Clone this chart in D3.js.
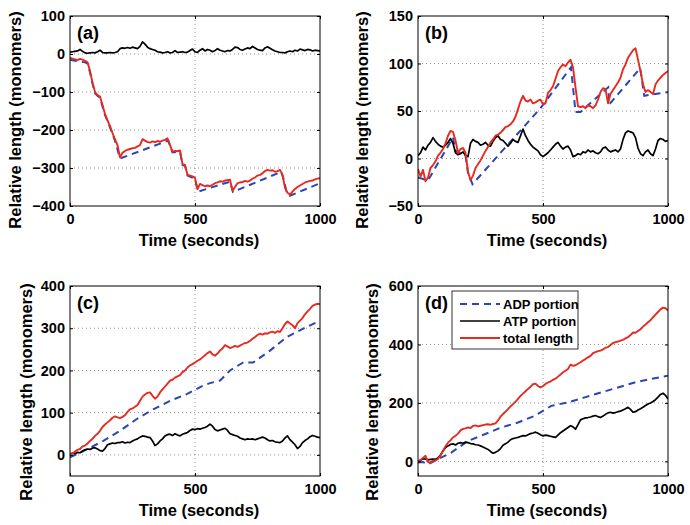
<!DOCTYPE html>
<html>
<head>
<meta charset="utf-8">
<script src="https://cdn.jsdelivr.net/npm/d3@7"></script>
<style>
  body { margin: 0; background: #fff; }
  svg text { font-family: "Liberation Sans", Arial, Helvetica, sans-serif; font-weight: bold; fill: #000; }
</style>
</head>
<body>
<div id="chart"></div>
<script>
// sample times (seconds) for the noisy traces
const time = d3.range(0, 1001, 10);
const xTicks = [0, 500, 1000];
const legendLabels = ["ADP portion", "ATP portion", "total length"];

// ---- panel (a)
const atpA = [5,6,7,8,12,7,3,2,3,4, 3,6,10,4,3,3,4,3,4,6,
  14,16,15,17,15,18,16,14,20,32, 26,18,14,12,10,6,5,3,4,6,
  3,4,9,4,5,6,4,5,9,13, 6,4,10,14,8,12,10,6,9,14,
  10,8,6,9,8,12,18,17,12,10, 13,16,14,20,16,12,10,9,16,19,
  15,11,8,6,4,4,3,6,8,6, 10,8,13,11,9,12,11,8,10,9, 8];
const totalA = [-10,-12,-14,-16,-13,-15,-18,-22,-45,-75,
  -100,-108,-112,-135,-158,-175,-190,-208,-225,-240,
  -272,-260,-255,-252,-250,-248,-247,-243,-240,-224,
  -228,-232,-233,-230,-232,-229,-231,-228,-226,-222,
  -240,-257,-255,-256,-254,-290,-292,-318,-320,-322,
  -326,-356,-342,-345,-348,-346,-348,-344,-340,-338,
  -335,-336,-333,-332,-331,-360,-350,-340,-338,-337,
  -334,-336,-333,-328,-325,-320,-318,-314,-308,-305,
  -307,-306,-310,-308,-305,-318,-352,-365,-370,-362,
  -355,-350,-346,-342,-338,-336,-334,-333,-330,-328, -327];
const adpTimeA = [0,20,60,70,80,90,100,110,120,140,160,180,200,393,400,410,440,450,460,470,500,510,513,640,652,845,855,865,880,1000];
const adpA = [-15,-18,-22,-25,-48,-78,-103,-110,-115,-160,-193,-228,-275,-228,-242,-259,-257,-292,-294,-320,-328,-358,-362,-336,-363,-310,-330,-360,-373,-340];
const yTicksA = [-400, -300, -200, -100, 0, 100];

// ---- panel (b)
const atpB = [3,6,12,9,14,17,22,18,15,13, 12,14,17,21,16,6,4,5,7,3,
  2,16,20,18,17,14,15,17,14,13, 18,22,24,20,19,16,13,16,20,18,
  17,24,31,24,19,15,12,10,8,4, 2,4,6,9,12,15,17,13,10,12,
  13,9,2,3,5,4,7,6,9,7, 8,6,5,7,11,12,9,7,8,9,
  7,10,20,27,29,28,27,22,11,5, 3,7,9,5,3,10,19,21,20,18, 19];
const totalB = [-11,-19,-12,-24,-20,-10,-7,-3,3,6,
  10,16,24,29,28,19,6,10,11,6,
  -14,-23,-18,-10,-6,-2,3,8,12,17,
  20,24,25,27,30,33,34,36,39,44,
  52,60,66,61,60,62,58,59,61,62,
  57,58,69,72,76,84,92,96,99,97,
  101,104,96,75,55,54,55,53,56,55,
  53,56,62,70,74,73,58,68,72,76,
  80,85,94,99,106,110,114,116,104,92,
  78,70,72,70,68,78,82,85,88,90, 92];
const adpTimeB = [0,40,140,150,190,200,218,490,612,630,650,761,765,889,905,1000];
const adpB = [-20,-23,22,8,3,-15,-27,53,96,49,49,75,57,95,66,70];
const yTicksB = [-50, 0, 50, 100, 150];

// ---- panel (c)
const atpC = [2,4,3,6,5,9,12,14,13,16, 17,14,10,9,15,24,26,28,27,29,
  29,31,28,30,29,33,36,38,42,45, 44,42,41,33,22,26,33,38,45,48,
  49,46,50,47,45,49,51,53,58,61, 60,62,61,63,65,68,73,68,60,57,
  59,61,63,58,50,48,46,44,40,38, 36,38,37,38,36,38,40,42,40,36,
  33,34,31,30,29,33,40,45,36,30, 24,15,20,29,34,38,43,46,44,42, 41];
const totalC = [4,3,8,12,14,20,22,27,33,38, 45,50,57,66,72,77,82,88,91,89,
  87,90,94,102,108,110,114,118,128,138, 143,147,148,140,133,138,148,155,162,169,
  176,178,183,186,189,196,200,207,212,215, 219,223,226,231,236,241,245,238,235,240,
  247,252,260,257,253,255,258,256,259,262, 265,266,270,275,279,284,287,285,288,287,
  290,292,289,293,291,300,310,316,311,307, 300,312,318,324,333,340,346,353,356,358, 357];
const adpTimeC = [0,67,133,200,267,333,400,467,533,560,600,640,693,733,800,867,933,1000];
const adpC = [-6,13,33,57,85,108,128,144,164,170,176,200,219,219,247,279,299,318];
const yTicksC = [0, 100, 200, 300, 400];

// ---- panel (d)
const atpD = [-2,4,9,8,5,7,8,7,12,22, 36,47,53,58,60,56,62,64,62,66,
  64,61,60,57,56,53,49,45,41,34, 28,31,36,44,55,60,66,74,78,80,
  82,85,88,87,91,95,97,100,96,91, 87,90,88,86,84,82,90,98,104,110,
  116,122,118,110,126,142,146,149,150,152, 155,157,153,150,155,161,166,168,165,167,
  170,172,176,180,185,178,168,170,176,180, 185,191,196,200,205,211,220,229,233,226, 213];
const totalD = [0,5,12,19,-2,-4,2,3,8,20, 35,52,64,72,82,88,95,106,111,113,
  116,114,121,123,120,122,124,126,127,125, 128,130,140,153,162,170,179,188,196,204,
  214,224,232,240,248,255,264,266,258,253, 258,265,270,273,279,283,290,297,305,310,
  316,331,327,329,334,339,345,350,356,361, 370,374,377,379,383,389,391,398,405,408,
  410,413,416,421,425,432,441,440,446,452, 461,468,476,483,493,502,511,520,526,524, 516];
const adpTimeD = [0,20,40,67,133,200,267,333,400,467,533,600,667,733,800,867,933,1000];
const adpD = [-4,-2,-10,2,30,70,93,116,133,156,190,202,219,236,253,270,282,293];
const yTicksD = [0, 200, 400, 600];

const colors = { adp: "#2b46b0", atp: "#000000", total: "#e62a1f" };

const svg = d3.select("#chart").append("svg")
    .attr("width", 690)
    .attr("height", 525);

const panels = [
  { id: "a", label: "(a)", left: 70, top: 16, yDomain: [-400, 100], yTicks: yTicksA,
    atp: atpA, total: totalA, adpT: adpTimeA, adp: adpA, ylabX: 21, ylabY: 120 },
  { id: "b", label: "(b)", left: 418, top: 16, yDomain: [-50, 150], yTicks: yTicksB,
    atp: atpB, total: totalB, adpT: adpTimeB, adp: adpB, ylabX: 368, ylabY: 120 },
  { id: "c", label: "(c)", left: 70, top: 286, yDomain: [-50, 400], yTicks: yTicksC,
    atp: atpC, total: totalC, adpT: adpTimeC, adp: adpC, ylabX: 32, ylabY: 392 },
  { id: "d", label: "(d)", left: 418, top: 286, yDomain: [-50, 600], yTicks: yTicksD,
    atp: atpD, total: totalD, adpT: adpTimeD, adp: adpD, ylabX: 378, ylabY: 392, legend: true }
];

const width = 250, height = 190;
const fmt = d3.format("d");

panels.forEach(p => {
  const g = svg.append("g").attr("transform", `translate(${p.left},${p.top})`);

  const x = d3.scaleLinear().domain([0, 1000]).range([0, width]);
  const y = d3.scaleLinear().domain(p.yDomain).range([height, 0]);

  // dotted grid
  g.append("g").selectAll("line")
    .data(p.yTicks.filter(v => v > p.yDomain[0] && v < p.yDomain[1]))
    .join("line")
      .attr("x1", 0).attr("x2", width)
      .attr("y1", d => y(d)).attr("y2", d => y(d))
      .attr("stroke", "#777").attr("stroke-width", 0.8)
      .attr("stroke-dasharray", "1,3");
  g.append("g").selectAll("line")
    .data(xTicks.filter(v => v > 0 && v < 1000))
    .join("line")
      .attr("y1", 0).attr("y2", height)
      .attr("x1", d => x(d)).attr("x2", d => x(d))
      .attr("stroke", "#777").attr("stroke-width", 0.8)
      .attr("stroke-dasharray", "1,3");

  g.append("clipPath").attr("id", "clip-" + p.id)
    .append("rect").attr("width", width).attr("height", height);

  const lines = g.append("g").attr("clip-path", `url(#clip-${p.id})`);
  const line = d3.line().x(d => x(d[0])).y(d => y(d[1]));

  lines.append("path")
    .attr("d", line(p.adpT.map((t, i) => [t, p.adp[i]])))
    .attr("fill", "none").attr("stroke", colors.adp)
    .attr("stroke-width", 2).attr("stroke-dasharray", "7,5");
  lines.append("path")
    .attr("d", line(time.map((t, i) => [t, p.atp[i]])))
    .attr("fill", "none").attr("stroke", colors.atp)
    .attr("stroke-width", 1.7).attr("stroke-linejoin", "round");
  lines.append("path")
    .attr("d", line(time.map((t, i) => [t, p.total[i]])))
    .attr("fill", "none").attr("stroke", colors.total)
    .attr("stroke-width", 1.9).attr("stroke-linejoin", "round");

  // axes, ticks pointing inwards
  const yAxis = g.append("g")
    .call(d3.axisLeft(y).tickValues(p.yTicks).tickSize(-3).tickPadding(5).tickFormat(fmt));
  const xAxis = g.append("g")
    .attr("transform", `translate(0,${height})`)
    .call(d3.axisBottom(x).tickValues(xTicks).tickSize(-3).tickPadding(8).tickFormat(fmt));
  g.append("g").attr("transform", `translate(${width},0)`)
    .call(d3.axisRight(y).tickValues(p.yTicks).tickSize(-3).tickFormat(""));
  g.append("g")
    .call(d3.axisTop(x).tickValues(xTicks).tickSize(-3).tickFormat(""));
  g.selectAll(".domain").remove();
  g.selectAll(".tick line").attr("stroke", "#000");
  [yAxis, xAxis].forEach(a => a.selectAll("text")
    .attr("font-size", 14.5)
    .attr("font-family", null)
    .attr("fill", "#000"));

  g.append("rect")
    .attr("width", width).attr("height", height)
    .attr("fill", "none").attr("stroke", "#000").attr("stroke-width", 1);

  g.append("text")
    .attr("x", 7).attr("y", 23)
    .attr("font-size", 18)
    .text(p.label);

  g.append("text")
    .attr("x", width / 2 + 4).attr("y", height + 40)
    .attr("text-anchor", "middle")
    .attr("font-size", 16.5)
    .text("Time (seconds)");

  svg.append("text")
    .attr("transform", `translate(${p.ylabX},${p.ylabY}) rotate(-90)`)
    .attr("text-anchor", "middle")
    .attr("font-size", 16.5)
    .text("Relative length (monomers)");

  if (p.legend) {
    const lg = g.append("g").attr("transform", "translate(34,5)");
    lg.append("rect")
      .attr("width", 126).attr("height", 58)
      .attr("fill", "#fff").attr("stroke", "#000").attr("stroke-width", 0.8);
    const styles = [
      { c: colors.adp, w: 2, dash: "7,5" },
      { c: colors.atp, w: 1.7, dash: null },
      { c: colors.total, w: 1.9, dash: null }
    ];
    legendLabels.forEach((lab, i) => {
      const ly = 13 + i * 17;
      lg.append("line")
        .attr("x1", 8).attr("x2", 48).attr("y1", ly).attr("y2", ly)
        .attr("stroke", styles[i].c).attr("stroke-width", styles[i].w)
        .attr("stroke-dasharray", styles[i].dash);
      lg.append("text")
        .attr("x", 51).attr("y", ly + 4.5)
        .attr("font-size", 13)
        .text(lab);
    });
  }
});
</script>
</body>
</html>
